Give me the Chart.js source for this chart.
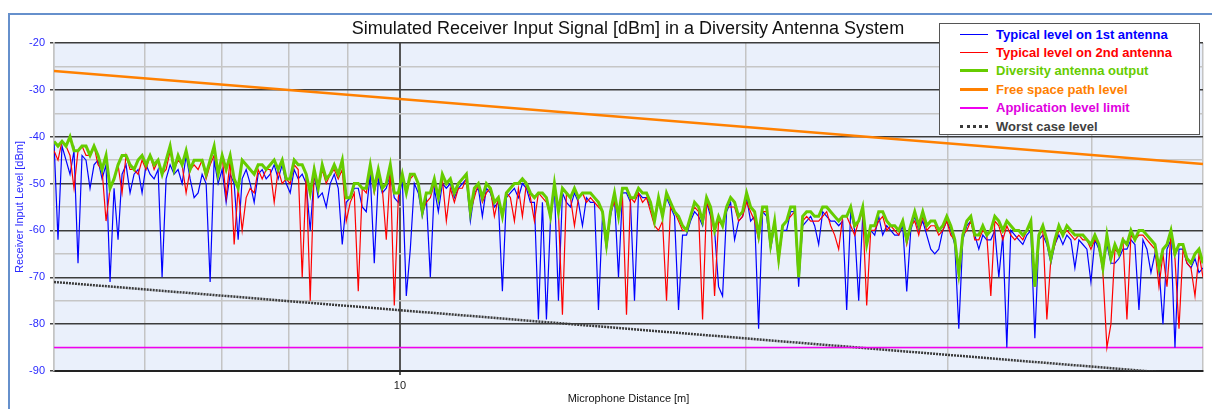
<!DOCTYPE html>
<html>
<head>
<meta charset="utf-8">
<title>Simulated Receiver Input Signal</title>
<script src="https://cdn.jsdelivr.net/npm/chart.js@4.4.1/dist/chart.umd.min.js"></script>
<style>
    body { margin: 0; background: #fff; font-family: 'Liberation Sans', Arial, sans-serif; }
    #wrap { position: relative; width: 1212px; height: 409px; overflow: hidden; }
    #frame { position: absolute; left: 8px; top: 13px; width: 1230px; height: 430px; border: 2px solid #6690cc; box-sizing: border-box; }
    #chartBox { position: absolute; left: 0; top: 0; width: 1212px; height: 409px; }
    #title { position: absolute; left: 278px; width: 700px; top: 18px; text-align: center; font-size: 18px; line-height: 20px; color: #111; }
    #legend { position: absolute; left: 939px; top: 23px; width: 261px; height: 112px; box-sizing: border-box; border: 1px solid #555; background: #fff; padding-top: 1px; }
    .legend-row { height: 18.4px; display: flex; align-items: center; }
    .legend-row .sample { margin-left: 20px; width: 28px; height: 0; }
    .legend-row span { margin-left: 8px; font-weight: bold; font-size: 13px; white-space: nowrap; }
</style>
</head>
<body>
<div id="wrap">
    <div id="frame"></div>
    <div id="chartBox"><canvas id="signalChart"></canvas></div>
    <div id="title">Simulated Receiver Input Signal [dBm] in a Diversity Antenna System</div>
    <div id="legend"></div>
</div>
<script>
// Levels in dBm, one value per sample (288 samples, 5 m .. 50 m)
const antenna1Level = [
    -41,-62,-42,-45,-48,-43,-67,-44,-45,-51, -46,-45,-49,-46,-71,-51,-62,-48,-46,-52,
    -48,-47,-52,-46,-48,-49,-47,-70,-49,-46, -48,-47,-50,-44,-49,-53,-52,-48,-50,-71,
    -45,-50,-47,-54,-48,-50,-62,-49,
    -47,-50,-54,-48,-47,-49,-48,-46,-49,-46, -50,-52,-47,-49,-48,-50,-60,-48,-53,-52,
    -55,-50,-48,-51,-63,-54,-53,-51,-51,-55, -56,-48,-67,-49,-52,-51,-48,-53,-54,-49,
    -74,-64,-50,-52,-57,-53,-70,-51,
    -56,-50,-51,-50,-53,-51,-50,-49,-58,-52, -51,-57,-51,-52,-55,-54,-73,-53,-52,-51,
    -53,-50,-51,-54,-54,-79,-54,-79,-58,-51, -75,-52,-54,-55,-52,-54,-59,-53,-54,-54,
    -77,-57,-64,-57,-53,-70,-52,
    -52,-54,-75,-52,-53,-53,-55,-58,-54,-57, -53,-55,-57,-77,-61,-61,-58,-56,-57,-59,
    -54,-57,-60,-72,-74,-56,-54,-62,-58,-57, -53,-58,-57,-81,-56,-57,-64,-59,-66,-60,
    -60,-56,-56,-72,-59,-58,-57,-59,
    -63,-56,-57,-58,-58,-59,-58,-77,-56,-60, -75,-57,-63,-60,-61,-57,-61,-59,-60,-61,
    -61,-59,-73,-60,-57,-60,-58,-61,-64,-65, -64,-60,-58,-60,-63,-81,-62,-59,-58,-61,
    -64,-61,-62,-62,-60,-70,-61,
    -85,-60,-61,-62,-63,-61,-60,-83,-62,-61, -63,-67,-63,-61,-63,-61,-62,-68,-62,-63,
    -64,-71,-62,-64,-68,-63,-67,-67,-66,-64, -64,-62,-63,-77,-62,-64,-69,-65,-68,-80,
    -64,-62,-85,-64,-64,-67,-68,-66,-69,-68
];
const antenna2Level = [
    -43,-45,-41,-42,-44,-51,-43,-42,-44,-44, -42,-46,-47,-58,-51,-49,-46,-52,-44,-47,
    -47,-48,-45,-47,-44,-47,-45,-48,-47,-43, -47,-45,-46,-52,-47,-46,-47,-45,-49,-46,
    -44,-48,-44,-53,-45,-63,-51,-60,
    -53,-51,-52,-47,-49,-47,-47,-54,-47,-50, -49,-50,-46,-47,-70,-48,-75,-47,-51,-47,
    -50,-48,-47,-49,-47,-58,-54,-52,-73,-51, -52,-47,-52,-48,-51,-62,-47,-76,-53,-48,
    -52,-49,-48,-50,-56,-54,-53,-50,
    -53,-49,-58,-51,-54,-51,-51,-49,-56,-53, -50,-54,-52,-51,-57,-53,-57,-52,-53,-58,
    -51,-57,-50,-53,-58,-52,-53,-54,-57,-50, -56,-78,-52,-53,-59,-53,-52,-54,-53,-54,
    -55,-56,-63,-56,-54,-57,-53,
    -78,-53,-54,-52,-54,-53,-56,-59,-60,-58, -75,-55,-56,-58,-60,-60,-57,-55,-56,-79,
    -54,-56,-74,-58,-59,-55,-55,-55,-58,-57, -54,-56,-58,-62,-56,-56,-63,-58,-67,-59,
    -58,-57,-56,-70,-58,-57,-58,-58,
    -58,-57,-56,-59,-61,-64,-57,-57,-59,-61, -58,-56,-76,-60,-60,-58,-57,-60,-59,-60,
    -61,-58,-63,-59,-58,-61,-57,-60,-59,-59, -61,-60,-58,-61,-62,-70,-61,-60,-58,-62,
    -62,-60,-61,-74,-58,-59,-62,
    -59,-61,-62,-61,-62,-60,-59,-72,-61,-60, -79,-66,-63,-60,-61,-60,-61,-62,-61,-62,
    -62,-64,-62,-63,-69,-85,-80,-64,-65,-62, -79,-61,-62,-61,-61,-62,-63,-64,-72,-65,
    -72,-61,-66,-81,-64,-67,-68,-74,-65,-70
];
const diversityLevel = [
    -41,-42,-41,-42,-40,-43,-43,-42,-42,-44, -42,-44,-47,-44,-51,-49,-46,-44,-44,-46,
    -47,-45,-44,-46,-44,-46,-45,-48,-45,-42, -47,-44,-46,-43,-47,-45,-45,-45,-48,-45,
    -42,-48,-44,-47,-44,-49,-51,-45,
    -46,-47,-48,-46,-46,-47,-46,-45,-47,-45, -49,-49,-45,-46,-46,-48,-52,-47,-51,-46,
    -49,-48,-46,-48,-45,-53,-53,-50,-50,-51, -51,-46,-51,-47,-51,-50,-46,-52,-52,-48,
    -52,-48,-48,-50,-56,-52,-52,-49,
    -53,-48,-50,-49,-52,-50,-49,-48,-56,-51, -50,-53,-50,-51,-54,-53,-57,-52,-51,-50,
    -50,-49,-50,-52,-53,-52,-52,-53,-57,-50, -56,-51,-52,-53,-51,-53,-52,-52,-52,-53,
    -54,-56,-63,-56,-52,-57,-51,
    -51,-53,-53,-51,-52,-52,-54,-58,-53,-57, -52,-54,-56,-57,-59,-60,-57,-54,-55,-58,
    -53,-55,-60,-57,-59,-55,-53,-54,-57,-56, -52,-55,-56,-61,-55,-55,-63,-58,-66,-59,
    -58,-55,-55,-70,-57,-56,-56,-57,
    -57,-55,-55,-56,-57,-58,-57,-57,-55,-59, -58,-55,-63,-59,-59,-56,-56,-58,-59,-59,
    -60,-58,-62,-59,-56,-59,-56,-59,-58,-58, -60,-59,-57,-59,-62,-69,-61,-58,-57,-61,
    -61,-59,-61,-60,-57,-58,-60,
    -58,-59,-60,-60,-61,-60,-58,-72,-61,-59, -62,-66,-62,-59,-61,-59,-60,-61,-61,-61,
    -62,-63,-61,-63,-68,-61,-66,-63,-65,-62, -63,-60,-62,-60,-60,-61,-62,-63,-68,-64,
    -63,-60,-65,-63,-63,-66,-67,-65,-64,-67
];

// straight reference lines, given at both ends of the distance range
const lineDistances = [5, 50];
const freeSpaceLevel = [-26, -45.8];
const appLimitLevel = [-85, -85];
const worstCaseLevel = [-71, -91];

// axes
const xGridValues = [5, 6, 7, 8, 9, 10, 20, 30, 40, 50];
const xLabelValues = [10];
const yGridValues = [-90, -85, -80, -75, -70, -65, -60, -55, -50, -45, -40, -35, -30, -25, -20];

const legendTextColors = ['#0000ff', '#ff0000', '#66cc00', '#ff8000', '#e000e0', '#404040'];

// sample positions, log-spaced from 5 m to 50 m (one per value)
const distances = diversityLevel.map((_, i) => 5 * Math.pow(10, i / (diversityLevel.length - 1)));

function toPoints(xs, ys) {
    return ys.map((y, i) => ({ x: xs[i], y: y }));
}

const plotBackground = {
    id: 'plotBackground',
    beforeDraw(chart) {
        const { ctx, chartArea: a } = chart;
        ctx.save();
        ctx.fillStyle = '#eaf0fb';
        ctx.fillRect(a.left, a.top, a.right - a.left, a.bottom - a.top);
        ctx.restore();
    }
};

Chart.defaults.font.family = "'Liberation Sans', Arial, sans-serif";

const chart = new Chart(document.getElementById('signalChart'), {
    type: 'line',
    data: {
        datasets: [
            { label: 'Typical level on 1st antenna', data: toPoints(distances, antenna1Level), borderColor: '#0000ff', borderWidth: 1.2, order: 3 },
            { label: 'Typical level on 2nd antenna', data: toPoints(distances, antenna2Level), borderColor: '#ff0000', borderWidth: 1.2, order: 2 },
            { label: 'Diversity antenna output', data: toPoints(distances, diversityLevel), borderColor: '#66cc00', borderWidth: 3, order: 1 },
            { label: 'Free space path level', data: toPoints(lineDistances, freeSpaceLevel), borderColor: '#ff8000', borderWidth: 2.5, order: 4 },
            { label: 'Application level limit', data: toPoints(lineDistances, appLimitLevel), borderColor: '#f000f0', borderWidth: 1.5, order: 5 },
            { label: 'Worst case level', data: toPoints(lineDistances, worstCaseLevel), borderColor: '#3a3a3a', borderWidth: 2.5, borderDash: [2, 1], order: 6 }
        ]
    },
    options: {
        responsive: true,
        maintainAspectRatio: false,
        animation: false,
        events: [],
        elements: { point: { radius: 0 }, line: { tension: 0 } },
        layout: { padding: { top: 43, right: 9, bottom: 0, left: 0 } },
        plugins: {
            legend: { display: false },
            tooltip: { enabled: false }
        },
        scales: {
            x: {
                type: 'logarithmic',
                min: 5,
                max: 50,
                afterBuildTicks: scale => { scale.ticks = xGridValues.map(v => ({ value: v })); },
                afterFit: scale => { scale.height = 38; },
                grid: {
                    color: c => (c.tick && c.tick.value === 10 ? '#555555' : '#c4c4c4'),
                    lineWidth: c => (c.tick && c.tick.value === 10 ? 2 : 1.5),
                    tickLength: 4,
                    tickColor: c => (c.tick && c.tick.value === 10 ? '#555555' : 'rgba(0,0,0,0)')
                },
                border: { display: true, color: '#222222', width: 2 },
                ticks: {
                    autoSkip: false,
                    maxRotation: 0,
                    padding: 4,
                    color: '#222222',
                    font: { size: 11 },
                    callback: value => (xLabelValues.includes(value) ? String(value) : '')
                },
                title: {
                    display: true,
                    text: 'Microphone Distance [m]',
                    color: '#111111',
                    font: { size: 11 },
                    padding: { top: 0, bottom: 3 }
                }
            },
            y: {
                min: -90,
                max: -20,
                afterBuildTicks: scale => { scale.ticks = yGridValues.map(v => ({ value: v })); },
                afterFit: scale => { scale.width = 54; },
                grid: {
                    color: c => (c.tick && c.tick.value % 10 === 0 ? '#3c3c3c' : '#c6c6c6'),
                    lineWidth: 1.5,
                    tickLength: 4,
                    tickColor: c => (c.tick && c.tick.value % 10 === 0 ? '#444444' : 'rgba(0,0,0,0)')
                },
                border: { display: true, color: '#c4c4c4', width: 1.5 },
                ticks: {
                    autoSkip: false,
                    padding: 5,
                    color: '#2a2aff',
                    font: { size: 11 },
                    callback: value => (value % 10 === 0 ? String(value) : '')
                },
                title: {
                    display: true,
                    text: 'Receiver Input Level [dBm]',
                    color: '#2a2aff',
                    font: { size: 11 },
                    padding: { top: 13, bottom: 0 }
                }
            }
        }
    },
    plugins: [plotBackground]
});

// legend box drawn over the plot, top right
function renderLegend() {
    const box = document.getElementById('legend');
    chart.data.datasets.forEach((ds, i) => {
        const row = document.createElement('div');
        row.className = 'legend-row';
        const sample = document.createElement('div');
        sample.className = 'sample';
        const style = ds.borderDash ? 'dotted' : 'solid';
        sample.style.borderTop = `${Math.max(1, Math.round(ds.borderWidth))}px ${style} ${ds.borderColor}`;
        const text = document.createElement('span');
        text.textContent = ds.label;
        text.style.color = legendTextColors[i];
        row.appendChild(sample);
        row.appendChild(text);
        box.appendChild(row);
    });
}

renderLegend();
</script>
</body>
</html>
